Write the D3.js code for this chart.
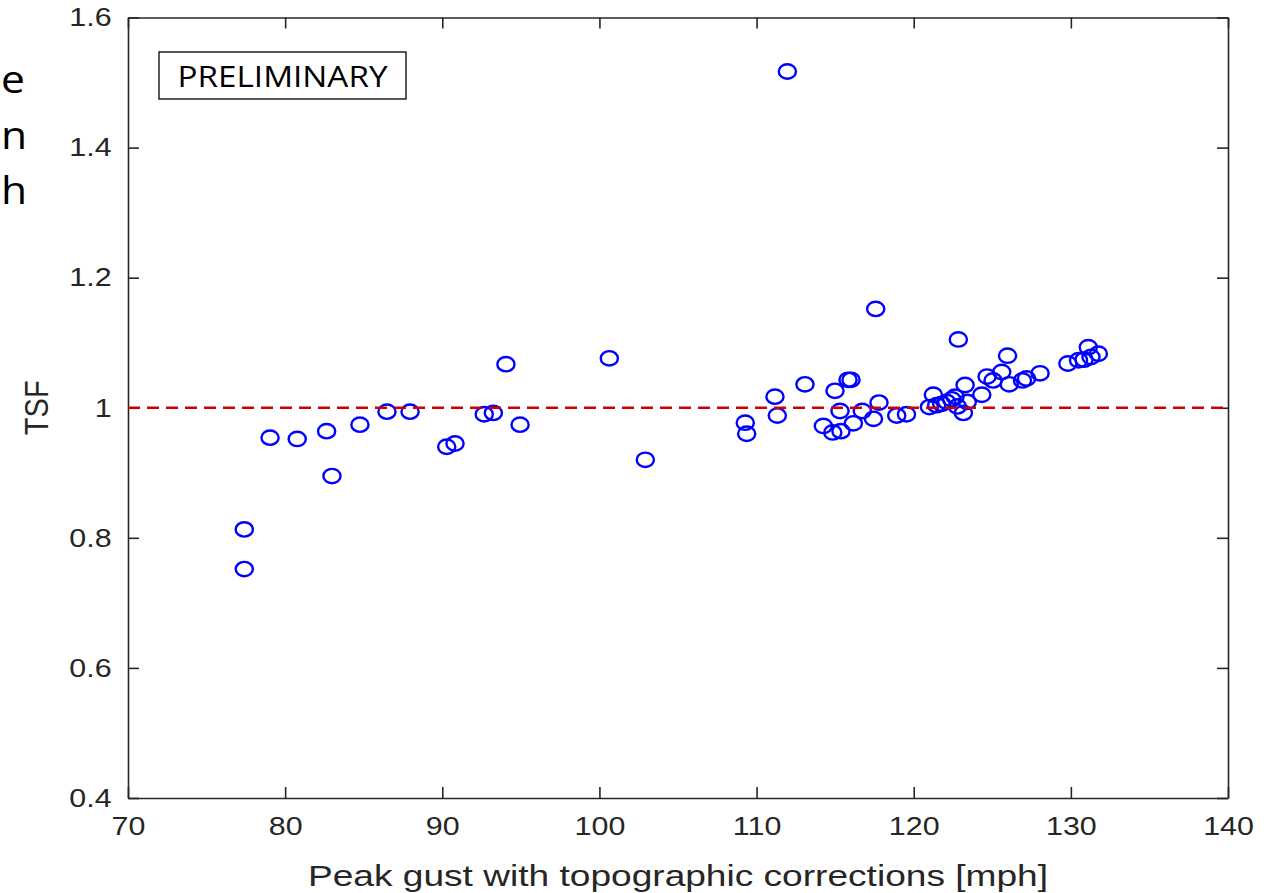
<!DOCTYPE html>
<html>
<head>
<meta charset="utf-8">
<script src="https://cdn.jsdelivr.net/npm/d3@7/dist/d3.min.js"></script>
<style>
  body { margin: 0; background: #fff; }
  text { fill: #262626; }
</style>
</head>
<body>
<svg id="chart" width="1277" height="893"></svg>
<script>
// peak gust (mph) and TSF for each site
var gustMph = [
  77.40, 77.40, 79.04, 80.77, 82.64, 82.98, 84.76, 86.48, 87.95, 90.28,
  90.81, 92.67, 93.25, 94.05, 94.95, 100.63, 102.92, 109.28, 109.37, 111.17,
  111.32, 111.96, 113.08, 114.25, 114.85, 114.99, 115.31, 115.37, 115.82, 116.01,
  116.16, 116.73, 117.44, 117.58, 117.79, 118.92, 119.54, 121.00, 121.25, 121.46,
  121.78, 122.10, 122.42, 122.63, 122.78, 122.84, 123.16, 123.27, 123.41, 124.33,
  124.67, 125.05, 125.60, 125.97, 126.08, 126.92, 127.18, 128.04, 129.81, 130.49,
  130.84, 131.11, 131.28, 131.75
];
var tsf = [
  0.813, 0.752, 0.954, 0.952, 0.964, 0.895, 0.974, 0.994, 0.994, 0.940,
  0.945, 0.990, 0.992, 1.067, 0.974, 1.076, 0.920, 0.977, 0.960, 1.017,
  0.988, 1.517, 1.036, 0.972, 0.962, 1.026, 0.995, 0.964, 1.043, 1.043,
  0.976, 0.995, 0.983, 1.152, 1.008, 0.988, 0.990, 1.001, 1.020, 1.004,
  1.006, 1.009, 1.013, 1.017, 1.002, 1.105, 0.992, 1.035, 1.009, 1.020,
  1.048, 1.042, 1.055, 1.080, 1.036, 1.042, 1.045, 1.053, 1.068, 1.073,
  1.074, 1.093, 1.078, 1.083
];
var xTicks = [70, 80, 90, 100, 110, 120, 130, 140];
var yTicks = [0.4, 0.6, 0.8, 1, 1.2, 1.4, 1.6];
var refTsf = 1;
var xLabel = 'Peak gust with topographic corrections [mph]';
var yLabel = 'TSF';
var stamp = 'PRELIMINARY';
var clipped = ['e', 'n', 'h'];

var svg = d3.select('#chart');
var margin = { top: 17.5, right: 49, bottom: 95, left: 128 };
var width = 1277 - margin.left - margin.right;
var height = 893 - margin.top - margin.bottom;
var stretch = 'scale(1.17,1)';

var x = d3.scaleLinear().domain([70, 140]).range([0, width]);
var y = d3.scaleLinear().domain([0.4, 1.6]).range([height, 0]);

// leftover letters from the slide, cut at the left edge
svg.append('g')
  .selectAll('text')
  .data(clipped)
  .enter()
  .append('text')
  .attr('transform', function (d, i) {
    return 'translate(0,' + (93 + i * 55.5) + ') scale(1.12,1)';
  })
  .attr('x', 1)
  .style('font-family', '"Open Sans", sans-serif')
  .style('font-size', '38px')
  .style('fill', '#000')
  .text(function (d) { return d; });

var g = svg.append('g')
  .attr('transform', 'translate(' + margin.left + ',' + margin.top + ')');

function styleAxis(sel) {
  sel.selectAll('path, line')
    .attr('stroke', '#262626')
    .attr('stroke-width', 1.6);
  sel.selectAll('text')
    .style('font-family', '"Liberation Sans", Arial, sans-serif')
    .style('font-size', '26px')
    .attr('fill', '#262626')
    .attr('transform', stretch);
}

g.append('g')
  .attr('transform', 'translate(0,' + height + ')')
  .call(d3.axisBottom(x).tickValues(xTicks).tickSize(-11).tickSizeOuter(0).tickPadding(19)
    .tickFormat(function (d) { return String(d); }))
  .call(styleAxis);

g.append('g')
  .call(d3.axisLeft(y).tickValues(yTicks).tickSize(-11).tickSizeOuter(0).tickPadding(14)
    .tickFormat(function (d) { return String(d); }))
  .call(styleAxis);

// mirrored box edges
g.append('g')
  .call(d3.axisTop(x).tickValues(xTicks).tickSize(-11).tickSizeOuter(0).tickFormat(''))
  .call(styleAxis);

g.append('g')
  .attr('transform', 'translate(' + width + ',0)')
  .call(d3.axisRight(y).tickValues(yTicks).tickSize(-11).tickSizeOuter(0).tickFormat(''))
  .call(styleAxis);

// data markers
g.append('g')
  .selectAll('ellipse')
  .data(gustMph)
  .enter()
  .append('ellipse')
  .attr('cx', function (d) { return x(d); })
  .attr('cy', function (d, i) { return y(tsf[i]); })
  .attr('rx', 8.6)
  .attr('ry', 7.2)
  .attr('fill', 'none')
  .attr('stroke', '#0000ff')
  .attr('stroke-width', 2.4);

// TSF = 1 reference
g.append('line')
  .attr('x1', x(70))
  .attr('x2', x(140))
  .attr('y1', y(refTsf))
  .attr('y2', y(refTsf))
  .attr('stroke', '#d00000')
  .attr('stroke-width', 2.4)
  .attr('stroke-dasharray', '12,7');

// stamp box
var stampBox = g.append('g').attr('transform', 'translate(31,34.5)');
stampBox.append('rect')
  .attr('width', 247)
  .attr('height', 47)
  .attr('fill', '#fff')
  .attr('stroke', '#000')
  .attr('stroke-width', 1.3);
stampBox.append('text')
  .attr('x', 123.5)
  .attr('y', 35)
  .attr('text-anchor', 'middle')
  .attr('textLength', 210)
  .attr('lengthAdjust', 'spacingAndGlyphs')
  .style('font-family', '"Open Sans", sans-serif')
  .style('font-size', '30px')
  .style('fill', '#000')
  .text(stamp);

// axis titles
svg.append('text')
  .attr('x', margin.left + width / 2)
  .attr('y', 886)
  .attr('text-anchor', 'middle')
  .attr('textLength', 740)
  .attr('lengthAdjust', 'spacingAndGlyphs')
  .style('font-family', '"Liberation Sans", Arial, sans-serif')
  .style('font-size', '30px')
  .text(xLabel);

svg.append('text')
  .attr('transform', 'translate(48,' + (margin.top + height / 2) + ') rotate(-90) scale(1,1.17)')
  .attr('text-anchor', 'middle')
  .style('font-family', '"Liberation Sans", Arial, sans-serif')
  .style('font-size', '29px')
  .text(yLabel);
</script>
</body>
</html>
